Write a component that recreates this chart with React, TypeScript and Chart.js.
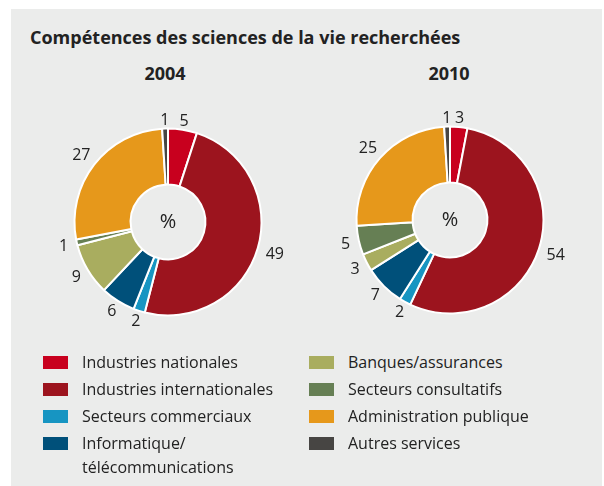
import React, { useEffect, useRef } from 'react';
import { Chart, registerables } from 'chart.js';
Chart.register(...registerables);

const title = 'Compétences des sciences de la vie recherchées';
const categories = [
  'Industries nationales',
  'Industries internationales',
  'Secteurs commerciaux',
  'Informatique/\ntélécommunications',
  'Banques/assurances',
  'Secteurs consultatifs',
  'Administration publique',
  'Autres services',
];
const colors = ['#c8001e', '#9c141e', '#1795c2', '#00507a', '#a9ad5f', '#667f54', '#e6981b', '#474543'];
const years = ['2004', '2010'];
const values2004 = [5, 49, 2, 6, 9, 1, 27, 1];
const values2010 = [3, 54, 2, 7, 3, 5, 25, 1];
const seriesByYear = [values2004, values2010];

const FONT = '"Open Sans", "Noto Sans", sans-serif';
const TEXT = '#222222';

const outsideLabels = {
  id: 'outsideLabels',
  afterDatasetsDraw(chart: any) {
    const ctx = chart.ctx;
    const meta = chart.getDatasetMeta(0);
    const data = chart.data.datasets[0].data;
    ctx.save();
    ctx.fillStyle = TEXT;
    ctx.textAlign = 'center';
    ctx.textBaseline = 'middle';
    ctx.font = `16px ${FONT}`;
    let cx = 0, cy = 0;
    meta.data.forEach((arc: any, i: number) => {
      const p = arc.getProps(['x', 'y', 'startAngle', 'endAngle', 'outerRadius'], true);
      cx = p.x; cy = p.y;
      const mid = (p.startAngle + p.endAngle) / 2;
      const txt = String(data[i]);
      const w = ctx.measureText(txt).width;
      const r = p.outerRadius + 9 + Math.abs(Math.cos(mid)) * w / 2;
      ctx.fillText(txt, p.x + Math.cos(mid) * r, p.y + Math.sin(mid) * r + 1);
    });
    ctx.font = `20px ${FONT}`;
    ctx.fillText('%', cx, cy);
    ctx.restore();
  },
};

function Donut({ values, left, top }: { values: number[]; left: number; top: number }) {
  const ref = useRef<HTMLCanvasElement>(null);
  useEffect(() => {
    const chart = new Chart(ref.current!, {
      type: 'doughnut',
      data: {
        labels: categories,
        datasets: [{
          data: values,
          backgroundColor: colors,
          borderColor: '#ffffff',
          borderWidth: 2,
        }],
      },
      options: {
        responsive: false,
        animation: false,
        radius: 93.5,
        cutout: '40%',
        layout: { padding: 0 },
        plugins: { legend: { display: false }, tooltip: { enabled: false } },
      } as any,
      plugins: [outsideLabels],
    });
    return () => chart.destroy();
  }, []);
  return (
    <canvas ref={ref} width={280} height={260}
      style={{ position: 'absolute', left, top, width: 280, height: 260 }} />
  );
}

export default function App() {
  const col1 = categories.slice(0, 4);
  const col2 = categories.slice(4);
  const legendCol = (items: string[], offset: number, swX: number, txX: number) =>
    items.map((c, i) => (
      <React.Fragment key={c}>
        <div style={{ position: 'absolute', left: swX, top: 356 + i * 27, width: 25, height: 13, background: colors[offset + i] }} />
        <div style={{ position: 'absolute', left: txX, top: 350 + i * 27, fontSize: 16, lineHeight: '24px', color: TEXT, whiteSpace: 'pre' }}>{c}</div>
      </React.Fragment>
    ));
  return (
    <div style={{ position: 'absolute', left: 0, top: 0, width: 604, height: 486, background: '#ffffff', fontFamily: FONT, overflow: 'hidden' }}>
      <div style={{ position: 'absolute', left: 11, top: 9, width: 591, height: 477, background: '#ebeceb' }} />
      <div style={{ position: 'absolute', left: 30, top: 25, fontSize: 18, fontWeight: 700, lineHeight: '24px', color: TEXT, whiteSpace: 'nowrap' }}>{title}</div>
      <div style={{ position: 'absolute', left: 115, width: 100, textAlign: 'center', top: 61, fontSize: 18, fontWeight: 700, lineHeight: '24px', color: TEXT }}>{years[0]}</div>
      <div style={{ position: 'absolute', left: 399, width: 100, textAlign: 'center', top: 61, fontSize: 18, fontWeight: 700, lineHeight: '24px', color: TEXT }}>{years[1]}</div>
      <Donut values={seriesByYear[0]} left={28} top={92} />
      <Donut values={seriesByYear[1]} left={310} top={90} />
      {legendCol(col1, 0, 43, 82)}
      {legendCol(col2, 4, 309, 348)}
    </div>
  );
}
